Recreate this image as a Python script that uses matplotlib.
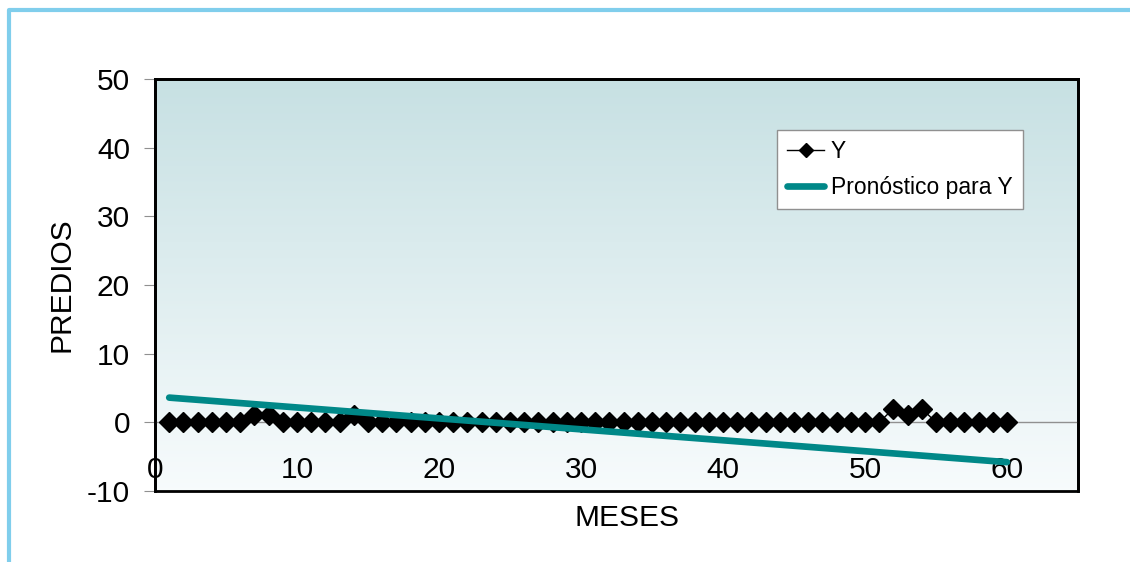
import numpy as np
import matplotlib.pyplot as plt
from matplotlib.lines import Line2D
from matplotlib.patches import Rectangle

plt.rcParams['font.family'] = ['Liberation Sans', 'DejaVu Sans']
plt.rcParams['axes.unicode_minus'] = False

# monthly counts
meses = list(range(1, 61))
y_vals = [0, 0, 0, 0, 0, 0, 1, 1, 0, 0,
          0, 0, 0, 1, 0, 0, 0, 0, 0, 0,
          0, 0, 0, 0, 0, 0, 0, 0, 0, 0,
          0, 0, 0, 0, 0, 0, 0, 0, 0, 0,
          0, 0, 0, 0, 0, 0, 0, 0, 0, 0,
          0, 2, 1, 2, 0, 0, 0, 0, 0, 0]

# linear forecast trend
pron_x = [1, 60]
pron_y = [3.6, -5.8]

fig = plt.figure(figsize=(11.3, 5.62), dpi=100)
ax = fig.add_axes([155/1130, 71/562, 923/1130, 412/562])

# gradient fill for the plot area
grad = np.linspace(0, 1, 256).reshape(-1, 1)
top = np.array([0.78, 0.88, 0.89])
bot = np.array([0.97, 0.985, 0.99])
img = top + (bot - top) * grad[..., None]
ax.imshow(img, extent=[0, 1, 0, 1], transform=ax.transAxes, aspect='auto', zorder=0)

ax.plot(meses, y_vals, color='black', lw=1, marker='D', markersize=10, label='Y', zorder=3)
ax.plot(pron_x, pron_y, color='#008888', lw=4.8, solid_capstyle='round', label='Pronóstico para Y', zorder=4)

ax.set_xlim(0, 65)
ax.set_ylim(-10, 50)
ax.set_xticks(range(0, 61, 10))
ax.set_yticks(range(-10, 51, 10))

# x axis crosses at zero
for s in ['top', 'right', 'left']:
    ax.spines[s].set_linewidth(2)
ax.spines['bottom'].set_position(('data', 0))
ax.spines['bottom'].set_color('#909090')
ax.spines['bottom'].set_linewidth(1)
ax.add_patch(Rectangle((0, 0), 1, 1, transform=ax.transAxes, fill=False,
                       edgecolor='black', lw=2, zorder=5, clip_on=False))

ax.tick_params(axis='x', colors='#909090', length=4, labelsize=21.5, labelcolor='black', pad=20)
ax.tick_params(axis='y', colors='#909090', length=8, labelsize=21.5, labelcolor='black', pad=10)

ax.set_ylabel('PREDIOS', fontsize=21.5, labelpad=8)
fig.text(627/1130, 1 - 518/562, 'MESES', fontsize=21.5, ha='center', va='center')

leg = ax.legend(loc='upper left', bbox_to_anchor=((777-155)/923, (491-130)/412),
                fontsize=16.5, frameon=True, fancybox=False, edgecolor='#909090', framealpha=1,
                handlelength=1.6, handletextpad=0.3, borderpad=0.45, borderaxespad=0,
                labelspacing=0.55, markerscale=0.7)
leg.get_frame().set_linewidth(1)

# outer border
fig.add_artist(Line2D([9/1130, 9/1130, 1], [0, 1 - 10/562, 1 - 10/562], transform=fig.transFigure,
                      color='#80ceec', lw=3))

fig.savefig('out.png', dpi=100)
